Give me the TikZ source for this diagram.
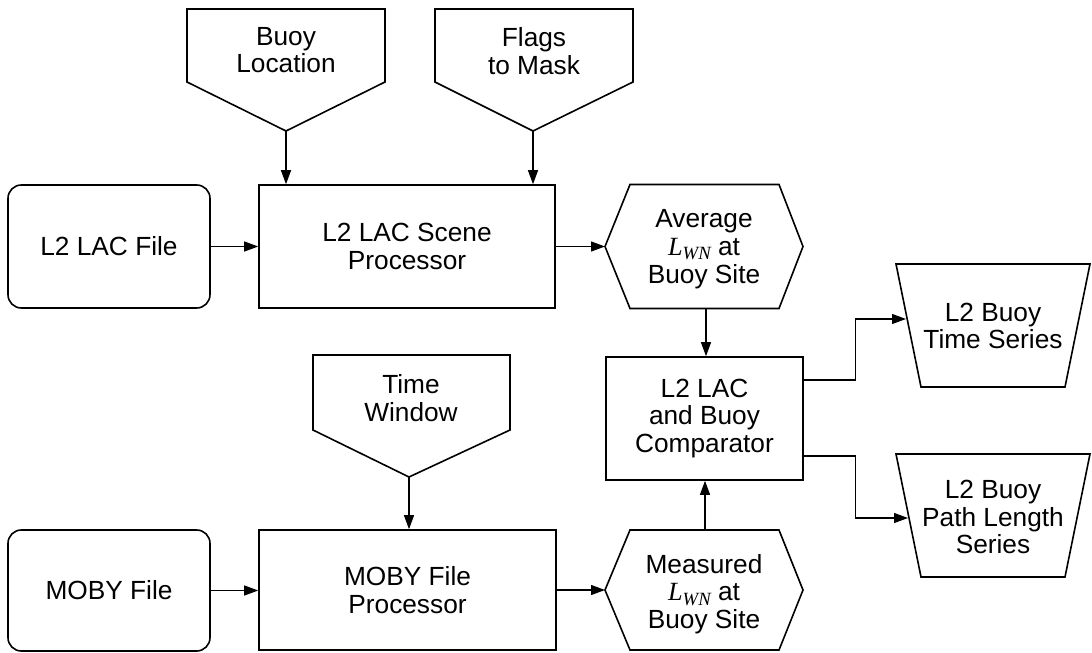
\documentclass[tikz,border=0pt]{standalone}
\usepackage{fontspec}
\setmainfont{Liberation Sans}
\newfontfamily\tnr{Liberation Serif}
\newcommand{\lwn}{{\tnr\itshape L\raisebox{-0.35ex}{\fontsize{14}{14}\selectfont WN}}}
\usetikzlibrary{arrows.meta,calc}
\begin{document}
\begin{tikzpicture}[x=0.75pt,y=-0.75pt,
  txt/.style={align=center,font=\fontsize{19.7}{20.8}\selectfont,inner sep=0pt},
  frame/.style={draw,line width=1.2pt,line join=miter},
  boxn/.style={frame,txt,minimum height=92.25pt},
  arr/.style={line width=0.9pt,-{Triangle[length=10.5pt,width=7.5pt]}}]
\useasboundingbox (0,0) rectangle (1092,653);

% ---- input (pentagon) shapes
\draw[frame] (187,82) -- (187,9) -- (385,9) -- (385,82) -- (286,131) -- cycle;
\coordinate (buoyTip) at (286,131);
\node[txt] (buoy) at (286,50) {Buoy\\Location};

\draw[frame] (435,82) -- (435,9) -- (633,9) -- (633,82) -- (533,131) -- cycle;
\coordinate (flagsTip) at (533,131);
\node[txt] (flags) at (534,51) {Flags\\to Mask};

\draw[frame] (313,430) -- (313,355) -- (510,355) -- (510,430) -- (409,477) -- cycle;
\coordinate (timeTip) at (409,477);
\node[txt] (time) at (411,398) {Time\\Window};

% ---- rectangles
\node[boxn,rounded corners=10pt,minimum width=151.5pt] (lacfile) at (109,246.5) {L2 LAC File};
\node[boxn,minimum width=222pt] (scene) at (407,246.5) {L2 LAC Scene\\Processor};
\node[boxn,minimum width=147.75pt] (comp) at (704.5,418.5) {L2 LAC\\and Buoy\\Comparator};
\node[boxn,rounded corners=10pt,minimum width=151.5pt,minimum height=90.75pt] (mobyfile) at (109,590.5) {MOBY File};
\node[boxn,minimum width=222.75pt,minimum height=90pt] (mobyproc) at (407.5,590) {MOBY File\\Processor};

% ---- hexagons
\draw[frame] (605,246.5) -- (630,184.5) -- (779,184.5) -- (803,246.5) -- (779,308.5) -- (630,308.5) -- cycle;
\coordinate (avgW) at (605,246.5);
\coordinate (avgS) at (706,308.5);
\node[txt] (avg) at (704,249) {Average\\\lwn\ at\\Buoy Site};

\draw[frame] (605,590) -- (630,530) -- (779,530) -- (803,590) -- (779,650) -- (630,650) -- cycle;
\coordinate (measW) at (605,590);
\coordinate (measN) at (705,530);
\node[txt] (meas) at (704,594) {Measured\\\lwn\ at\\Buoy Site};

% ---- trapezoids (outputs)
\draw[frame] (896,264) -- (1090,264) -- (1065,387) -- (921,387) -- cycle;
\coordinate (tsIn) at (906,319);
\node[txt] (ts) at (993,326) {L2 Buoy\\Time Series};

\draw[frame] (896,454) -- (1090,454) -- (1065,577) -- (921,577) -- cycle;
\coordinate (plIn) at (908,518);
\node[txt] (pl) at (993,517) {L2 Buoy\\Path Length\\Series};

% ---- connectors
\draw[arr] (buoyTip) -- (buoyTip |- scene.north);
\draw[arr] (flagsTip) -- (flagsTip |- scene.north);
\draw[arr] (timeTip) -- (timeTip |- mobyproc.north);
\draw[arr] (lacfile.east) -- (lacfile.east -| scene.west);
\draw[arr] (scene.east) -- (avgW);
\draw[arr] (avgS) -- (avgS |- comp.north);
\draw[arr] (measN) -- (measN |- comp.south);
\draw[arr] (mobyfile.east) -- (mobyfile.east -| mobyproc.west);
\draw[arr] (mobyproc.east) -- (measW);
\draw[arr] ([yshift=28.9pt]comp.east) -- ++(52,0) |- (tsIn);
\draw[arr] ([yshift=-28.1pt]comp.east) -- ++(52,0) |- (plIn);
\end{tikzpicture}
\end{document}
